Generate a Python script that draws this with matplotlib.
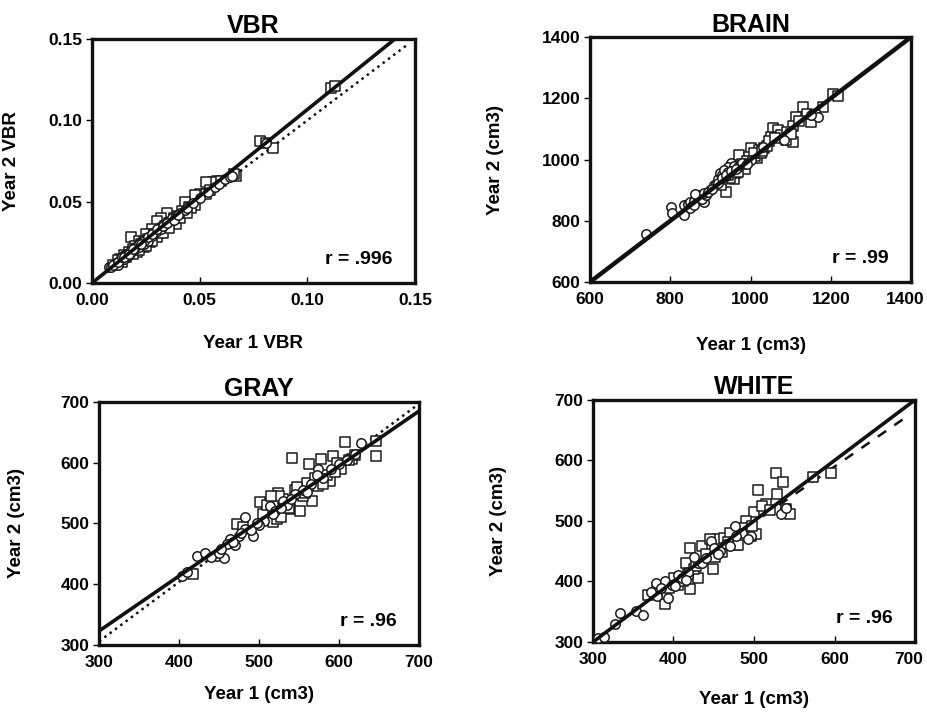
import matplotlib
matplotlib.use("Agg")
import matplotlib.pyplot as plt
import matplotlib.transforms as mtrans

plt.rcParams['font.family'] = ['Liberation Sans', 'DejaVu Sans']
plt.rcParams['font.weight'] = 'bold'

# ---- VBR ----
vbr_sq_x = [0.111, 0.113, 0.078, 0.081, 0.084, 0.067, 0.066, 0.058, 0.056, 0.053, 0.050, 0.048,
            0.048, 0.043, 0.042, 0.039, 0.035, 0.032, 0.030, 0.018, 0.028, 0.025, 0.022, 0.020,
            0.017, 0.015, 0.013, 0.012, 0.010, 0.024, 0.027, 0.033, 0.036, 0.038, 0.040, 0.045,
            0.046, 0.053, 0.055, 0.060, 0.019, 0.021, 0.023, 0.026, 0.029, 0.031, 0.034, 0.016, 0.014,
            0.021, 0.024, 0.027, 0.030, 0.033, 0.036, 0.019, 0.022, 0.025, 0.028, 0.041, 0.044]
vbr_sq_y = [0.120, 0.121, 0.087, 0.086, 0.083, 0.066, 0.067, 0.063, 0.062, 0.062, 0.055, 0.054,
            0.048, 0.050, 0.044, 0.036, 0.043, 0.040, 0.038, 0.028, 0.033, 0.030, 0.026, 0.023,
            0.019, 0.017, 0.015, 0.014, 0.011, 0.025, 0.027, 0.034, 0.037, 0.040, 0.041, 0.047,
            0.046, 0.055, 0.057, 0.063, 0.021, 0.021, 0.024, 0.027, 0.030, 0.031, 0.035, 0.016, 0.013,
            0.019, 0.022, 0.025, 0.028, 0.031, 0.034, 0.018, 0.020, 0.023, 0.026, 0.040, 0.043]
vbr_ci_x = [0.008, 0.009, 0.011, 0.012, 0.013, 0.014, 0.015, 0.016, 0.017, 0.018, 0.019, 0.020,
            0.021, 0.022, 0.023, 0.024, 0.025, 0.026, 0.027, 0.028, 0.029, 0.030, 0.031, 0.032,
            0.034, 0.036, 0.037, 0.039, 0.041, 0.043, 0.044, 0.047, 0.050, 0.054, 0.057, 0.059,
            0.062, 0.064, 0.065, 0.081, 0.010, 0.012, 0.014, 0.016, 0.018, 0.020, 0.022, 0.024,
            0.026, 0.028, 0.030, 0.033, 0.035, 0.038, 0.040, 0.015, 0.017, 0.019, 0.023]
vbr_ci_y = [0.010, 0.010, 0.012, 0.011, 0.014, 0.015, 0.015, 0.018, 0.017, 0.019, 0.020, 0.021,
            0.022, 0.022, 0.025, 0.024, 0.027, 0.026, 0.029, 0.029, 0.031, 0.032, 0.034, 0.033,
            0.036, 0.038, 0.040, 0.041, 0.043, 0.045, 0.046, 0.049, 0.052, 0.056, 0.059, 0.061,
            0.064, 0.065, 0.066, 0.086, 0.011, 0.013, 0.016, 0.017, 0.020, 0.022, 0.024, 0.026,
            0.028, 0.030, 0.033, 0.035, 0.037, 0.039, 0.042, 0.016, 0.018, 0.021, 0.024]

# ---- BRAIN ----
brain_sq_x = [1205, 1218, 1180, 1130, 1113, 1150, 1105, 1055, 1068, 1105, 1088, 1051, 1001, 972,
              938, 926, 959, 1017, 1034, 997, 1020, 1040, 1045, 985, 965, 950, 930, 1075, 1090,
              1100, 1140, 1160, 1010, 990, 955, 1025, 1008, 1028, 978, 968, 945, 1060, 1120]
brain_sq_y = [1213, 1206, 1173, 1171, 1140, 1124, 1108, 1102, 1097, 1058, 1064, 1075, 1037, 1015,
              895, 917, 938, 1004, 1037, 1009, 1030, 1045, 1060, 970, 955, 940, 935, 1080, 1090,
              1085, 1150, 1145, 1010, 995, 975, 1020, 1022, 1028, 985, 960, 950, 1070, 1125]
brain_ci_x = [739, 801, 805, 835, 835, 868, 884, 909, 951, 943, 1167, 1150, 1084, 845, 850, 855,
              860, 870, 875, 880, 890, 900, 915, 920, 925, 930, 935, 940, 945, 960, 970, 980,
              1000, 1030, 862, 848, 858, 885, 895, 905, 918, 928, 938, 952, 965, 990]
brain_ci_y = [758, 846, 826, 851, 818, 884, 862, 917, 988, 977, 1140, 1146, 1064, 855, 860, 848,
              865, 872, 880, 870, 885, 900, 920, 935, 955, 950, 965, 945, 960, 980, 975, 990,
              1000, 1040, 888, 842, 852, 890, 895, 905, 925, 940, 950, 962, 968, 985]

# ---- GRAY ----
gray_sq_x = [646, 608, 646, 541, 616, 593, 578, 562, 603, 589, 566, 539, 524, 501, 518, 522,
             472, 418, 551, 574, 560, 530, 545, 555, 512, 505, 585, 597, 620, 535, 525, 480,
             570, 548, 510, 515, 528, 538, 558, 580, 595, 612]
gray_sq_y = [636, 634, 611, 608, 606, 611, 606, 598, 589, 570, 537, 524, 551, 535, 502, 507,
             499, 417, 521, 562, 567, 540, 555, 545, 520, 515, 580, 600, 612, 530, 545, 495,
             575, 560, 530, 545, 510, 525, 550, 565, 585, 605]
gray_ci_x = [404, 422, 433, 447, 456, 464, 483, 493, 514, 530, 574, 628, 460, 483, 506, 410,
             440, 450, 470, 475, 490, 500, 520, 535, 545, 555, 565, 580, 590, 600, 610, 620,
             452, 468, 478, 498, 518, 528, 540, 560, 572]
gray_ci_y = [414, 447, 452, 447, 444, 474, 510, 480, 529, 537, 589, 633, 466, 491, 504, 420,
             445, 452, 465, 480, 490, 498, 520, 530, 548, 555, 565, 575, 590, 598, 605, 615,
             458, 470, 485, 500, 515, 525, 540, 552, 580]

# ---- WHITE ----
white_sq_x = [527, 536, 505, 529, 596, 573, 540, 515, 500, 420, 436, 449, 420, 389, 430, 368,
              401, 496, 502, 455, 463, 476, 540, 545, 510, 490, 470, 440, 415, 425, 445, 480,
              405, 412, 460, 395, 418, 428, 452, 468, 485, 498, 520, 380]
white_sq_y = [580, 564, 551, 544, 580, 572, 514, 528, 514, 456, 459, 420, 387, 362, 405, 378,
              406, 475, 478, 470, 472, 461, 520, 512, 525, 500, 480, 445, 430, 420, 470, 460,
              395, 400, 448, 390, 412, 425, 440, 465, 488, 492, 518, 385]
white_ci_x = [333, 327, 353, 362, 378, 389, 380, 393, 476, 447, 534, 496, 430, 306, 314, 385,
              398, 405, 418, 425, 435, 450, 458, 465, 485, 492, 372, 410, 540, 402, 415, 440,
              455, 470, 478]
white_ci_y = [348, 329, 351, 345, 398, 400, 376, 373, 492, 467, 511, 475, 431, 307, 309, 390,
              395, 410, 415, 440, 430, 455, 450, 462, 480, 470, 382, 405, 522, 392, 402, 438,
              445, 458, 475]

fig = plt.figure(figsize=(9.28, 7.12), dpi=100)

panels = [
    dict(rect=[0.0991, 0.6025, 0.348, 0.3427], title='VBR', lim=(0, 0.15),
         ticks=[0.0, 0.05, 0.10, 0.15], fmt='{:.2f}', xl='Year 1 VBR', yl='Year 2 VBR',
         sq=(vbr_sq_x, vbr_sq_y), ci=(vbr_ci_x, vbr_ci_y), r='r = .996',
         xlc=-0.213, ylc=-0.223),
    dict(rect=[0.6358, 0.6039, 0.3459, 0.344], title='BRAIN', lim=(600, 1400),
         ticks=[600, 800, 1000, 1200, 1400], fmt='{:.0f}', xl='Year 1 (cm3)', yl='Year 2 (cm3)',
         sq=(brain_sq_x, brain_sq_y), ci=(brain_ci_x, brain_ci_y), r='r = .99',
         xlc=-0.224, ylc=-0.268),
    dict(rect=[0.1067, 0.0941, 0.3448, 0.3413], title='GRAY', lim=(300, 700),
         ticks=[300, 400, 500, 600, 700], fmt='{:.0f}', xl='Year 1 (cm3)', yl='Year 2 (cm3)',
         sq=(gray_sq_x, gray_sq_y), ci=(gray_ci_x, gray_ci_y), r='r = .96',
         xlc=-0.169, ylc=-0.231),
    dict(rect=[0.639, 0.0983, 0.347, 0.34], title='WHITE', lim=(300, 700),
         ticks=[300, 400, 500, 600, 700], fmt='{:.0f}', xl='Year 1 (cm3)', yl='Year 2 (cm3)',
         sq=(white_sq_x, white_sq_y), ci=(white_ci_x, white_ci_y), r='r = .96',
         xlc=-0.202, ylc=-0.267),
]

axes = []
for p in panels:
    ax = fig.add_axes(p['rect'])
    ax.set_xlim(*p['lim'])
    ax.set_ylim(*p['lim'])
    ax.scatter(p['sq'][0], p['sq'][1], marker='s', s=46, facecolors='white',
               edgecolors='#1a1a1a', linewidths=1.1, zorder=3)
    ax.scatter(p['ci'][0], p['ci'][1], marker='o', s=46, facecolors='white',
               edgecolors='#1a1a1a', linewidths=1.1, zorder=3)
    ax.set_xticks(p['ticks'])
    ax.set_yticks(p['ticks'])
    ax.set_xticklabels([p['fmt'].format(t) for t in p['ticks']])
    ax.set_yticklabels([p['fmt'].format(t) for t in p['ticks']])
    ax.tick_params(axis='x', direction='in', length=4, width=1, pad=7, labelsize=12.5)
    ax.tick_params(axis='y', direction='out', length=4, width=1, pad=3, labelsize=12.5)
    for sp in ax.spines.values():
        sp.set_linewidth(2.4)
        sp.set_color('#111111')
    ax.set_title(p['title'], fontsize=18, fontweight='bold', pad=4)
    ax.set_xlabel(p['xl'], fontsize=13.5, fontweight='bold')
    ax.set_ylabel(p['yl'], fontsize=13.5, fontweight='bold')
    ax.xaxis.set_label_coords(0.5, p['xlc'])
    ax.yaxis.set_label_coords(p['ylc'], 0.5)
    ax.text(0.93, 0.06, p['r'], transform=ax.transAxes, ha='right', va='bottom',
            fontsize=14, fontweight='bold')
    axes.append(ax)

# the right-most tick labels of the right column sit close to the page edge
shift = mtrans.ScaledTranslation(-6 / 100, 0, fig.dpi_scale_trans)
for ax in (axes[1], axes[3]):
    lab = ax.get_xticklabels()[-1]
    lab.set_transform(lab.get_transform() + shift)

# fit / identity lines
ax = axes[0]
ax.plot([0, 0.147], [0, 0.147], ':', color='#111111', lw=1.8, zorder=2)
ax.plot([0, 0.1407], [0, 0.15], '-', color='#111111', lw=2.6, zorder=4)

ax = axes[1]
ax.plot([600, 1400], [600, 1400], '-', color='#111111', lw=3.2, zorder=4)

ax = axes[2]
ax.plot([300, 700], [306, 697], ':', color='#111111', lw=1.8, zorder=2)
ax.plot([300, 700], [323, 685], '-', color='#111111', lw=2.6, zorder=4)

ax = axes[3]
ax.plot([300, 700], [300, 700], '-', color='#111111', lw=2.6, zorder=4)
ax.plot([470, 685], [470, 668], '--', color='#111111', lw=1.8, dashes=(4, 4), zorder=2)

fig.savefig('out.png', dpi=100)
